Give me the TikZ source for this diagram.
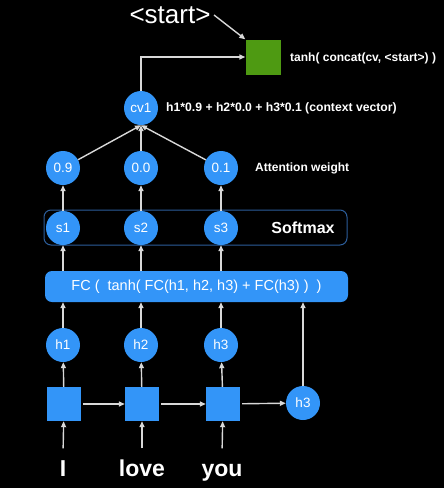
\documentclass[tikz,border=0pt]{standalone}
\usepackage{fontspec}
\setmainfont{Liberation Sans}
\usetikzlibrary{positioning, arrows.meta}

\definecolor{cellblue}{HTML}{3395F8}
\definecolor{boxline}{HTML}{2C5D9A}
\definecolor{decgreen}{HTML}{4E9A12}
\definecolor{linegray}{HTML}{D8D8D8}

\begin{document}
\begin{tikzpicture}[x=1pt, y=-1pt,
        unit/.style={circle, fill=cellblue, text=white, minimum size=34pt, inner sep=0pt, font=\fontsize{13.5}{13.5}\selectfont},
        cell/.style={rectangle, fill=cellblue, minimum size=34pt, inner sep=0pt},
        word/.style={text=white, anchor=base, text height=17pt, text depth=5pt, font=\fontsize{23}{23}\selectfont\bfseries},
        note/.style={text=white, anchor=west, inner sep=0pt},
        link/.style={draw=linegray, line width=1.4pt, -{Triangle[length=6pt, width=5pt]}}]

        \fill[black] (0,0) rectangle (444,488);

        % encoder
        \node[cell] (x1) at (64,404) {};
        \node[cell] (x2) at (142,404) {};
        \node[cell] (x3) at (223,404) {};
        \node[unit] (hlast) at (303,403) {h3};

        \node[word] (w1) at (63,476) {I};
        \node[word] (w2) at (142,476) {love};
        \node[word] (w3) at (222,476) {you};

        \node[unit] (h1) at (63,345) {h1};
        \node[unit] (h2) at (141,345) {h2};
        \node[unit] (h3) at (221,345) {h3};

        % attention
        \node[rectangle, rounded corners=7pt, fill=cellblue, text=white, minimum width=303pt, minimum height=31pt,
              font=\fontsize{14.5}{14.5}\selectfont] (fc) at (196.5,286.5) {FC (\ \ tanh( FC(h1, h2, h3) + FC(h3) )\ \ )};

        \node[rectangle, rounded corners=7pt, draw=boxline, line width=1pt, minimum width=303pt, minimum height=35pt] (smbox) at (195.5,227.5) {};
        \node[unit] (s1) at (63,228) {s1};
        \node[unit] (s2) at (141,228) {s2};
        \node[unit] (s3) at (221,228) {s3};
        \node[text=white, font=\fontsize{16}{16}\selectfont\bfseries] (softmax) at (303,228) {Softmax};

        \node[unit] (a1) at (63,168) {0.9};
        \node[unit] (a2) at (141,168) {0.0};
        \node[unit] (a3) at (221,168) {0.1};
        \node[note, font=\fontsize{12}{12}\selectfont\bfseries] (attn) at (255,168) {Attention weight};

        \node[unit] (cv) at (141,108) {cv1};
        \node[note, font=\fontsize{12.2}{12.2}\selectfont\bfseries] (cvtext) at (166,108) {h1*0.9 + h2*0.0 + h3*0.1 (context vector)};

        % decoder
        \node[rectangle, fill=decgreen, minimum size=35pt, inner sep=0pt] (dec) at (263,57) {};
        \node[note, font=\fontsize{12}{12}\selectfont\bfseries] (dectext) at (290,58) {tanh( concat(cv, <start>) )};
        \node[text=white, font=\fontsize{26}{26}\selectfont] (start) at (170,15) {<start>};

        \path[every edge/.style={link}]
            (w1.north) edge[shorten <=7pt] (x1)
            (w2.north) edge[shorten <=7pt] (x2)
            (w3.north) edge[shorten <=7pt] (x3)
            (x1) edge[shorten <=2pt] (x2)
            (x2) edge[shorten <=2pt] (x3)
            (x3) edge[shorten <=2pt] (hlast)
            (x1) edge (h1)
            (x2) edge (h2)
            (x3) edge (h3)
            (h1) edge (h1 |- fc.south)
            (h2) edge (h2 |- fc.south)
            (h3) edge (h3 |- fc.south)
            (hlast) edge (hlast |- fc.south)
            (fc.north -| s1) edge (s1)
            (fc.north -| s2) edge (s2)
            (fc.north -| s3) edge (s3)
            (s1) edge (a1)
            (s2) edge (a2)
            (s3) edge (a3)
            (a1) edge (cv.south)
            (a2) edge (cv.south)
            (a3) edge (cv.south)
            (start.east) edge (dec.north west);

        \draw[link] (cv.north) |- (dec.west);

\end{tikzpicture}
\end{document}
